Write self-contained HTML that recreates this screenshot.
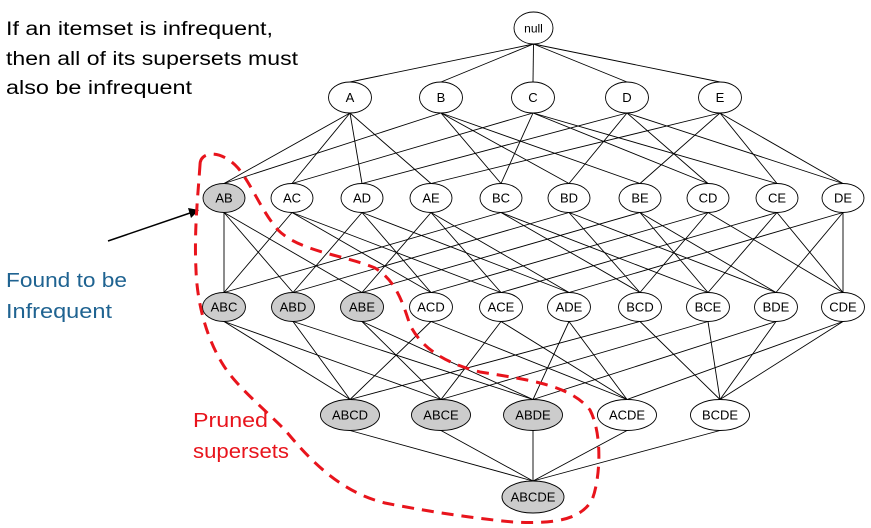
<!DOCTYPE html>
<html><head><meta charset="utf-8"><style>
html,body{margin:0;padding:0;background:#fff;}
svg{display:block;}
</style></head><body>
<svg id="s" width="871" height="528" viewBox="0 0 871 528" xmlns="http://www.w3.org/2000/svg" font-family="Liberation Sans, Arial, sans-serif">
<g id="edges" stroke="#000" stroke-width="0.9"></g>
<g font-family="Liberation Sans, sans-serif" font-size="19" fill="#000">
<text x="6" y="35" textLength="267" lengthAdjust="spacingAndGlyphs">If an itemset is infrequent,</text>
<text x="6" y="65" textLength="292" lengthAdjust="spacingAndGlyphs">then all of its supersets must</text>
<text x="6" y="94" textLength="186" lengthAdjust="spacingAndGlyphs">also be infrequent</text>
</g>
<g font-size="20" fill="#1f6391">
<text x="6" y="287" textLength="121" lengthAdjust="spacingAndGlyphs">Found to be</text>
<text x="6" y="318" textLength="106" lengthAdjust="spacingAndGlyphs">Infrequent</text>
</g>
<g font-size="20" fill="#e8141c">
<text x="193" y="427" textLength="75" lengthAdjust="spacingAndGlyphs">Pruned</text>
<text x="193" y="458" textLength="96" lengthAdjust="spacingAndGlyphs">supersets</text>
</g>
<line x1="108" y1="241" x2="190" y2="213" stroke="#000" stroke-width="1.5"/>
<polygon points="199,210 188,208 191,218" fill="#000"/>
<g id="nodes" font-size="13" text-anchor="middle" stroke-width="0.9">
<g><ellipse cx="533.5" cy="28" rx="19.5" ry="16" fill="#fff" stroke="#000"/><text x="533.5" y="32.5" font-size="12">null</text></g>
<g><ellipse cx="350" cy="97.5" rx="21.5" ry="15.5" fill="#fff" stroke="#000"/><text x="350" y="102">A</text></g>
<g><ellipse cx="441" cy="97.5" rx="21.5" ry="15.5" fill="#fff" stroke="#000"/><text x="441" y="102">B</text></g>
<g><ellipse cx="533" cy="97.5" rx="21.5" ry="15.5" fill="#fff" stroke="#000"/><text x="533" y="102">C</text></g>
<g><ellipse cx="627" cy="97.5" rx="21.5" ry="15.5" fill="#fff" stroke="#000"/><text x="627" y="102">D</text></g>
<g><ellipse cx="720" cy="97.5" rx="21.5" ry="15.5" fill="#fff" stroke="#000"/><text x="720" y="102">E</text></g>

<g><ellipse cx="224" cy="198" rx="21" ry="14.5" fill="#cccccc" stroke="#000"/><text x="224" y="202.5">AB</text></g>
<g><ellipse cx="292" cy="198" rx="21" ry="14.5" fill="#fff" stroke="#000"/><text x="292" y="202.5">AC</text></g>
<g><ellipse cx="362" cy="198" rx="21" ry="14.5" fill="#fff" stroke="#000"/><text x="362" y="202.5">AD</text></g>
<g><ellipse cx="431" cy="198" rx="21" ry="14.5" fill="#fff" stroke="#000"/><text x="431" y="202.5">AE</text></g>
<g><ellipse cx="501" cy="198" rx="21" ry="14.5" fill="#fff" stroke="#000"/><text x="501" y="202.5">BC</text></g>
<g><ellipse cx="569" cy="198" rx="21" ry="14.5" fill="#fff" stroke="#000"/><text x="569" y="202.5">BD</text></g>
<g><ellipse cx="640" cy="198" rx="21" ry="14.5" fill="#fff" stroke="#000"/><text x="640" y="202.5">BE</text></g>
<g><ellipse cx="708" cy="198" rx="21" ry="14.5" fill="#fff" stroke="#000"/><text x="708" y="202.5">CD</text></g>
<g><ellipse cx="777" cy="198" rx="21" ry="14.5" fill="#fff" stroke="#000"/><text x="777" y="202.5">CE</text></g>
<g><ellipse cx="843" cy="198" rx="21" ry="14.5" fill="#fff" stroke="#000"/><text x="843" y="202.5">DE</text></g>

<g><ellipse cx="224" cy="307" rx="21.5" ry="14.5" fill="#cccccc" stroke="#000"/><text x="224" y="311.5">ABC</text></g>
<g><ellipse cx="293" cy="307" rx="21.5" ry="14.5" fill="#cccccc" stroke="#000"/><text x="293" y="311.5">ABD</text></g>
<g><ellipse cx="362" cy="307" rx="21.5" ry="14.5" fill="#cccccc" stroke="#000"/><text x="362" y="311.5">ABE</text></g>
<g><ellipse cx="431" cy="307" rx="21.5" ry="14.5" fill="#fff" stroke="#000"/><text x="431" y="311.5">ACD</text></g>
<g><ellipse cx="501" cy="307" rx="21.5" ry="14.5" fill="#fff" stroke="#000"/><text x="501" y="311.5">ACE</text></g>
<g><ellipse cx="569" cy="307" rx="21.5" ry="14.5" fill="#fff" stroke="#000"/><text x="569" y="311.5">ADE</text></g>
<g><ellipse cx="640" cy="307" rx="21.5" ry="14.5" fill="#fff" stroke="#000"/><text x="640" y="311.5">BCD</text></g>
<g><ellipse cx="708" cy="307" rx="21.5" ry="14.5" fill="#fff" stroke="#000"/><text x="708" y="311.5">BCE</text></g>
<g><ellipse cx="776" cy="307" rx="21.5" ry="14.5" fill="#fff" stroke="#000"/><text x="776" y="311.5">BDE</text></g>
<g><ellipse cx="843" cy="307" rx="21.5" ry="14.5" fill="#fff" stroke="#000"/><text x="843" y="311.5">CDE</text></g>

<g><ellipse cx="350" cy="415" rx="29.5" ry="15.5" fill="#cccccc" stroke="#000"/><text x="350" y="419.5">ABCD</text></g>
<g><ellipse cx="441" cy="415" rx="29.5" ry="15.5" fill="#cccccc" stroke="#000"/><text x="441" y="419.5">ABCE</text></g>
<g><ellipse cx="533" cy="415" rx="29.5" ry="15.5" fill="#cccccc" stroke="#000"/><text x="533" y="419.5">ABDE</text></g>
<g><ellipse cx="627" cy="415" rx="29.5" ry="15.5" fill="#fff" stroke="#000"/><text x="627" y="419.5">ACDE</text></g>
<g><ellipse cx="720" cy="415" rx="29.5" ry="15.5" fill="#fff" stroke="#000"/><text x="720" y="419.5">BCDE</text></g>

<g><ellipse cx="533" cy="497" rx="31" ry="16" fill="#cccccc" stroke="#000"/><text x="533" y="501.5">ABCDE</text></g>
</g>
<path d="M200,165 C200,150 222,150 238,168 C252,185 262,212 278,230 C300,252 345,255 375,268 C395,280 402,300 410,325 C420,345 440,362 480,372 C530,380 570,385 590,410 C603,435 600,480 592,500 C580,520 555,524 513,522 C470,518 420,510 385,503 C340,492 310,460 285,430 C260,405 235,385 222,363 C205,335 197,300 196,270 C194,230 198,195 200,165 Z" fill="none" stroke="#e8141c" stroke-width="3" stroke-dasharray="12,8"/>
</svg>
<script>
(function(){
var L=[["null"],["A","B","C","D","E"],["AB","AC","AD","AE","BC","BD","BE","CD","CE","DE"],["ABC","ABD","ABE","ACD","ACE","ADE","BCD","BCE","BDE","CDE"],["ABCD","ABCE","ABDE","ACDE","BCDE"],["ABCDE"]];
var pos={};
var gs=document.querySelectorAll('#nodes g');
gs.forEach(function(g){var e=g.querySelector('ellipse');var t=g.querySelector('text').textContent;
pos[t]={x:+e.getAttribute('cx'),y:+e.getAttribute('cy'),ry:+e.getAttribute('ry')};});
var eg=document.getElementById('edges');var ns='http://www.w3.org/2000/svg';
function sub(a,b){if(a==="null")return true;for(var i=0;i<a.length;i++)if(b.indexOf(a[i])<0)return false;return true;}
for(var l=0;l<L.length-1;l++){L[l].forEach(function(a){L[l+1].forEach(function(b){if(sub(a,b)){var p=pos[a],q=pos[b];
var ln=document.createElementNS(ns,'line');ln.setAttribute('x1',p.x);ln.setAttribute('y1',p.y+p.ry);ln.setAttribute('x2',q.x);ln.setAttribute('y2',q.y-q.ry);eg.appendChild(ln);}});});}
})();
</script>
</body></html>
